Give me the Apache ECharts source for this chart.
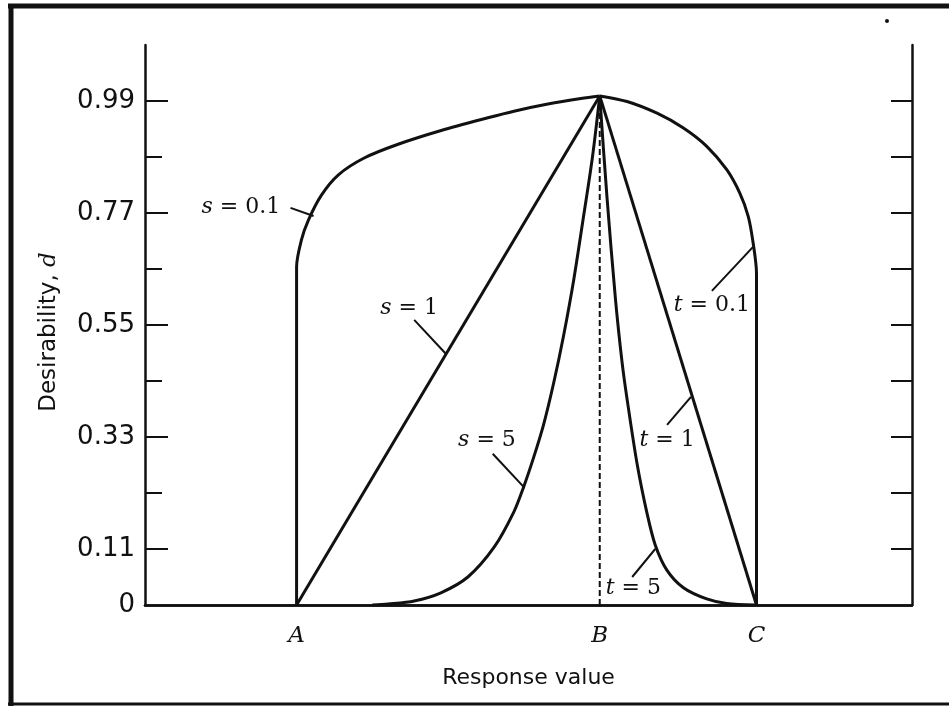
<!DOCTYPE html>
<html>
<head>
<meta charset="utf-8">
<script src="https://cdn.jsdelivr.net/npm/echarts@6/dist/echarts.min.js"></script>
<style>
  html, body { margin: 0; padding: 0; background: #fff; }
  #main { width: 949px; height: 706px; }
</style>
</head>
<body>
<div id="main"></div>
<script>
// response values: A = 1, B = 2, C = 2.517
const xTickValues = [1, 2, 2.517];
const xTickLabels = ['A', 'B', 'C'];
const yLabelValues = [0, 0.11, 0.33, 0.55, 0.77, 0.99];
const yMinorValues = [0.22, 0.44, 0.66, 0.88];
const yRightTicks = [0.11, 0.22, 0.33, 0.44, 0.55, 0.66, 0.77, 0.88, 0.99];

// curves, [response, desirability]
const s01 = [
  [1.0, 0], [1.0, 0.526], [1.0, 0.664], [1.016, 0.717], [1.039, 0.756],
  [1.082, 0.805], [1.138, 0.845], [1.223, 0.878], [1.335, 0.905],
  [1.477, 0.932], [1.631, 0.957], [1.717, 0.970], [1.829, 0.984],
  [1.938, 0.995], [2.0, 1.0]
];
const s1 = [[1.0, 0], [2.0, 1.0]];
const s5 = [
  [1.25, 0], [1.302, 0.002], [1.388, 0.008], [1.476, 0.024], [1.565, 0.055],
  [1.651, 0.113], [1.716, 0.182], [1.749, 0.232], [1.782, 0.290],
  [1.815, 0.355], [1.848, 0.436], [1.881, 0.530], [1.914, 0.638],
  [1.947, 0.765], [1.976, 0.880], [2.0, 1.0]
];
const t01 = [
  [2.0, 1.0], [2.090, 0.989], [2.189, 0.966], [2.276, 0.937], [2.353, 0.901],
  [2.419, 0.855], [2.462, 0.809], [2.490, 0.763], [2.506, 0.711],
  [2.517, 0.652], [2.517, 0]
];
const t1 = [[2.0, 1.0], [2.517, 0]];
const t5 = [
  [2.0, 1.0], [2.024, 0.800], [2.052, 0.600], [2.074, 0.475], [2.090, 0.405],
  [2.123, 0.278], [2.156, 0.180], [2.183, 0.118], [2.222, 0.068],
  [2.276, 0.034], [2.353, 0.012], [2.419, 0.003], [2.512, 0]
];
const peakLine = [[2.0, 0], [2.0, 1.0]];

// curve labels with leader lines (data coordinates)
const notes = [
  { text: '{i|s} = 0.1', at: [0.816, 0.782], from: [0.980, 0.780], to: [1.056, 0.764] },
  { text: '{i|s} = 1', at: [1.371, 0.583], from: [1.388, 0.560], to: [1.493, 0.493] },
  { text: '{i|s} = 5', at: [1.628, 0.324], from: [1.647, 0.297], to: [1.749, 0.232] },
  { text: '{i|t} = 0.1', at: [2.370, 0.589], from: [2.370, 0.617], to: [2.505, 0.703] },
  { text: '{i|t} = 1', at: [2.222, 0.324], from: [2.222, 0.354], to: [2.301, 0.409] },
  { text: '{i|t} = 5', at: [2.111, 0.033], from: [2.107, 0.055], to: [2.183, 0.110] }
];

const black = '#111';
const sans = 'DejaVu Sans';
const serif = 'DejaVu Serif';

const curve = (name, data, extra) => Object.assign({
  name,
  type: 'line',
  data,
  showSymbol: false,
  smooth: 0.3,
  silent: true,
  lineStyle: { color: black, width: 3 }
}, extra);

const chart = echarts.init(document.getElementById('main'));

chart.setOption({
  backgroundColor: '#fff',
  animation: false,
  grid: { left: 145, right: 37, top: 45, bottom: 101 },
  xAxis: [{
    type: 'value',
    min: 0.5,
    max: 3.03,
    position: 'bottom',
    name: 'Response value',
    nameLocation: 'middle',
    nameGap: 62,
    nameTextStyle: { fontFamily: sans, fontSize: 22, color: black },
    axisLine: { show: true, lineStyle: { color: black, width: 2.5 } },
    axisTick: { show: false },
    splitLine: { show: false },
    axisLabel: {
      customValues: xTickValues,
      formatter: (v) => xTickLabels[xTickValues.indexOf(v)] || '',
      margin: 20,
      fontFamily: serif,
      fontStyle: 'italic',
      fontSize: 23,
      color: black
    }
  }, {
    type: 'value',
    min: 0.5,
    max: 3.03,
    position: 'top',
    axisLine: { show: true, lineStyle: { color: black, width: 2.5 } },
    axisTick: { show: false },
    axisLabel: { show: false },
    splitLine: { show: false }
  }],
  yAxis: [{
    type: 'value',
    min: 0,
    max: 1.1,
    position: 'left',
    name: 'Desirability, {i|d}',
    nameLocation: 'middle',
    nameGap: 84,
    nameRotate: 90,
    nameTextStyle: {
      fontFamily: sans, fontSize: 23, color: black,
      padding: [0, 14, 0, 0],
      rich: { i: { fontFamily: serif, fontStyle: 'italic', fontSize: 23, color: black } }
    },
    axisLine: { show: true, lineStyle: { color: black, width: 2.5 } },
    axisTick: {
      show: true, inside: true, length: 23,
      customValues: [0.11, 0.33, 0.55, 0.77, 0.99],
      lineStyle: { color: black, width: 2 }
    },
    axisLabel: {
      customValues: yLabelValues,
      formatter: (v) => (v === 0 ? '0' : v.toFixed(2)),
      margin: 10,
      padding: [6, 0, 0, 0],
      fontFamily: sans,
      fontSize: 26,
      color: black
    },
    splitLine: { show: false }
  }, {
    type: 'value',
    min: 0,
    max: 1.1,
    position: 'left',
    axisLine: { show: false },
    axisTick: {
      show: true, inside: true, length: 17,
      customValues: yMinorValues,
      lineStyle: { color: black, width: 2 }
    },
    axisLabel: { show: false },
    splitLine: { show: false }
  }, {
    type: 'value',
    min: 0,
    max: 1.1,
    position: 'right',
    axisLine: { show: true, lineStyle: { color: black, width: 2.5 } },
    axisTick: {
      show: true, inside: true, length: 21,
      customValues: yRightTicks,
      lineStyle: { color: black, width: 2 }
    },
    axisLabel: { show: false },
    splitLine: { show: false }
  }],
  series: [
    curve('s = 0.1', s01),
    curve('s = 1', s1, { smooth: false }),
    curve('s = 5', s5),
    curve('t = 0.1', t01),
    curve('t = 1', t1, { smooth: false }),
    curve('t = 5', t5),
    curve('B', peakLine, { smooth: false, lineStyle: { color: black, width: 2, type: [6, 3] } })
  ]
});

const toPx = (p) => chart.convertToPixel({ xAxisIndex: 0, yAxisIndex: 0 }, p);

const graphics = [];
notes.forEach((n) => {
  const a = toPx(n.from);
  const b = toPx(n.to);
  const c = toPx(n.at);
  graphics.push({
    type: 'line',
    silent: true,
    shape: { x1: a[0], y1: a[1], x2: b[0], y2: b[1] },
    style: { stroke: black, lineWidth: 2 }
  });
  graphics.push({
    type: 'text',
    silent: true,
    x: c[0],
    y: c[1],
    style: {
      text: n.text,
      fontFamily: serif,
      fontSize: 22,
      fill: black,
      align: 'center',
      verticalAlign: 'middle',
      rich: { i: { fontFamily: serif, fontStyle: 'italic', fontSize: 22, fill: black } }
    }
  });
});

// page frame of the scanned figure
graphics.push(
  { type: 'line', silent: true, shape: { x1: 11, y1: 4, x2: 11, y2: 706 }, style: { stroke: black, lineWidth: 5 } },
  { type: 'line', silent: true, shape: { x1: 8, y1: 6, x2: 949, y2: 6 }, style: { stroke: black, lineWidth: 5 } },
  { type: 'line', silent: true, shape: { x1: 8, y1: 704, x2: 949, y2: 704 }, style: { stroke: black, lineWidth: 3 } },
  { type: 'circle', silent: true, shape: { cx: 887, cy: 21, r: 2 }, style: { fill: black } }
);

chart.setOption({ graphic: graphics });
</script>
</body>
</html>
